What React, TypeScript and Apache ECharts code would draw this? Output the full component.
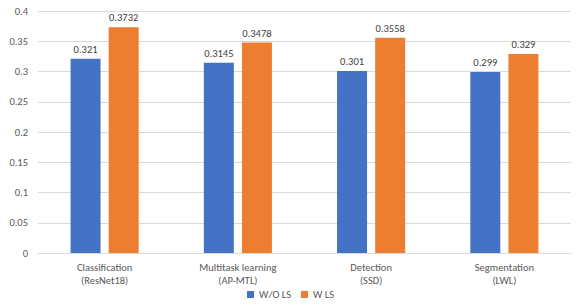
import React, { useEffect, useRef } from "react";
import * as echarts from "echarts";

const categories = ["Classification\n(ResNet18)", "Multitask learning\n(AP-MTL)", "Detection\n(SSD)", "Segmentation\n(LWL)"];
const woLS = [0.321, 0.3145, 0.301, 0.299];
const wLS = [0.3732, 0.3478, 0.3558, 0.329];
const seriesNames = ["W/O LS", "W LS"];

export default function App() {
  const ref = useRef<HTMLDivElement>(null);
  useEffect(() => {
    const chart = echarts.init(ref.current!, null, { renderer: "svg" });
    const font = "Calibri, Carlito, Lato, 'Open Sans', 'Liberation Sans', sans-serif";
    const label = {
      show: true,
      position: "top" as const,
      color: "#404040",
      fontSize: 10.5,
      fontFamily: font,
      distance: 4,
      formatter: (p: any) => String(p.value),
    };
    chart.setOption({
      animation: false,
      textStyle: { fontFamily: font },
      grid: { left: 38, right: 10, top: 11, bottom: 53 },
      legend: {
        bottom: 1,
        left: "center",
        itemWidth: 7,
        itemHeight: 7,
        itemGap: 10,
        icon: "rect",
        textStyle: { color: "#595959", fontSize: 10.5, fontFamily: font },
        data: seriesNames,
      },
      xAxis: {
        type: "category",
        data: categories,
        axisLine: { show: true, lineStyle: { color: "#d9d9d9" } },
        axisTick: { show: false },
        axisLabel: { color: "#595959", fontSize: 10.5, fontFamily: font, lineHeight: 13, margin: 8 },
      },
      yAxis: {
        type: "value",
        min: 0,
        max: 0.4,
        interval: 0.05,
        axisLine: { show: false },
        axisTick: { show: false },
        splitLine: { lineStyle: { color: "#d9d9d9" } },
        axisLabel: { color: "#595959", fontSize: 10.5, fontFamily: font, margin: 10 },
      },
      series: [
        {
          name: seriesNames[0],
          type: "bar",
          data: woLS,
          barWidth: 30,
          barGap: "27%",
          itemStyle: { color: "#4472C4" },
          label,
        },
        {
          name: seriesNames[1],
          type: "bar",
          data: wLS,
          barWidth: 30,
          itemStyle: { color: "#ED7D31" },
          label,
        },
      ],
    });
    return () => chart.dispose();
  }, []);
  return <div ref={ref} style={{ width: 581, height: 306, margin: -8 }} />;
}
